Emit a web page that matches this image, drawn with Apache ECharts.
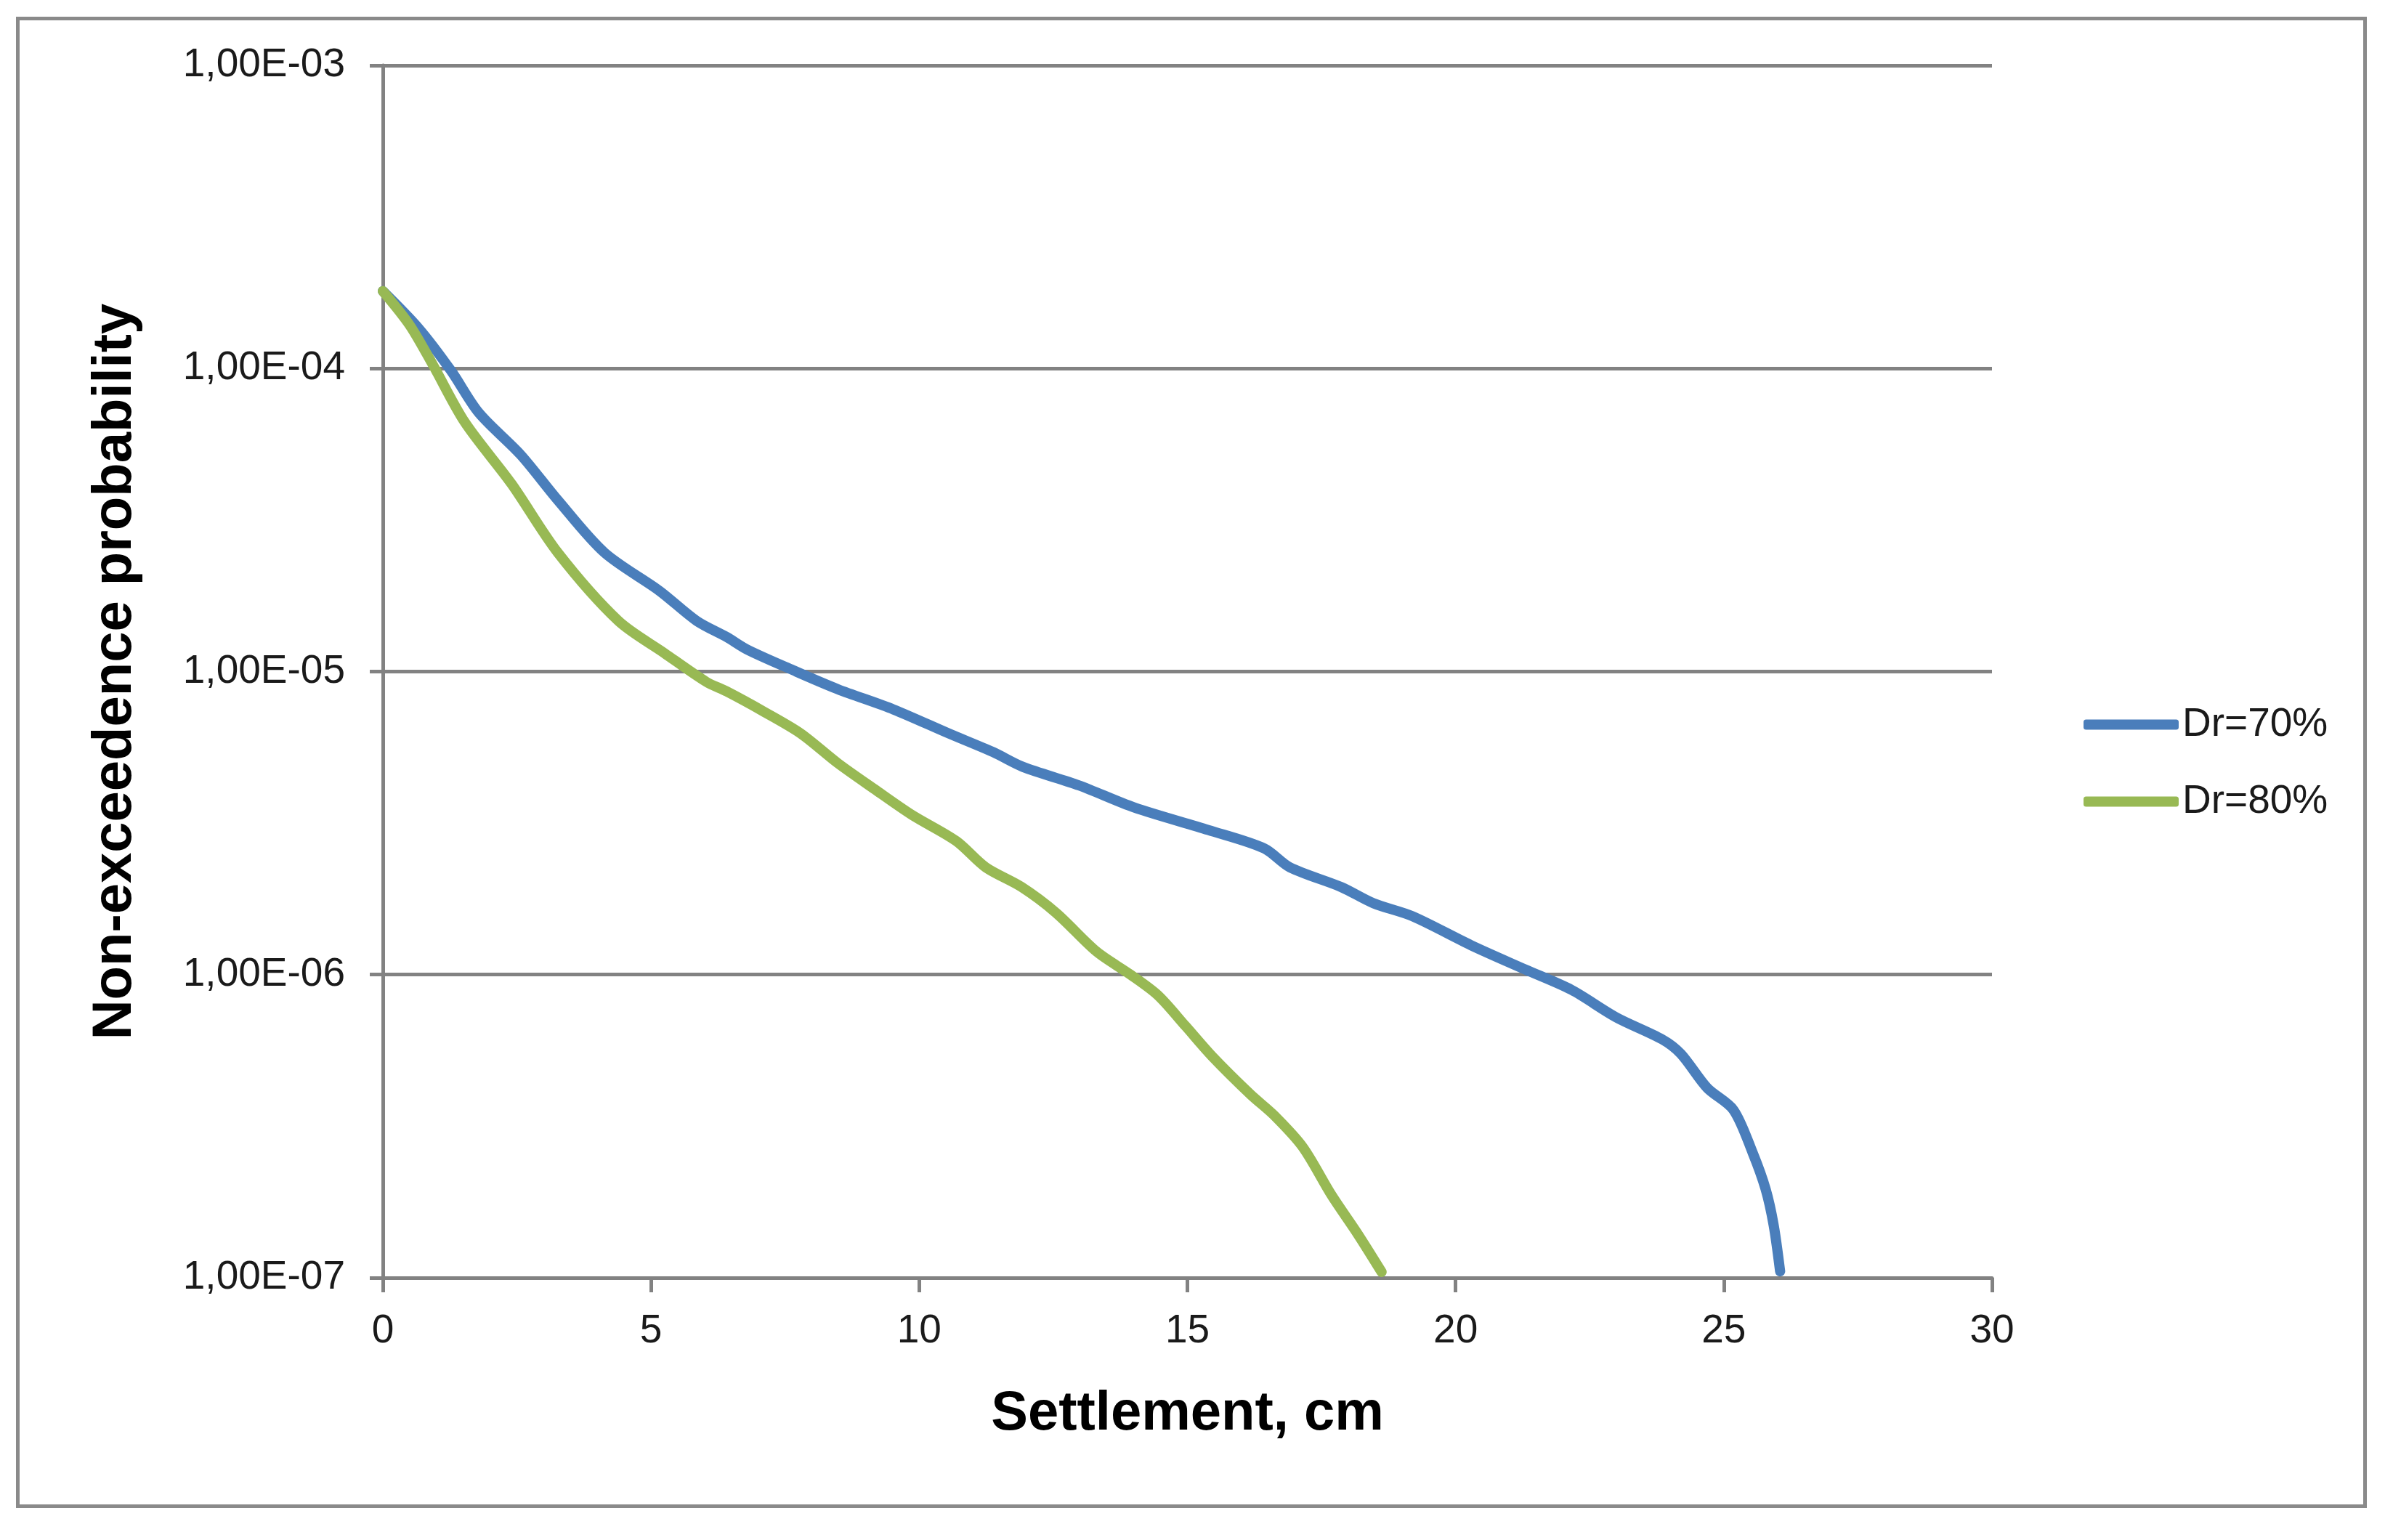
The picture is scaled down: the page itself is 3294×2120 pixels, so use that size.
<!DOCTYPE html>
<html>
<head>
<meta charset="utf-8">
<script src="https://cdn.jsdelivr.net/npm/echarts@6/dist/echarts.min.js"></script>
<style>
  * { margin: 0; padding: 0; }
  body { width: 3294px; height: 2120px; background: #fff; position: relative; overflow: hidden; }
  #frame { position: absolute; left: 22px; top: 23px; width: 3226px; height: 2043px; border: 5px solid #8a8a8a; }
  #main { position: absolute; left: 0; top: 0; width: 3294px; height: 2120px; }
</style>
</head>
<body>
<div id="frame"></div>
<div id="main"></div>
<script>
  // Settlement (cm) and non-exceedence probability
  var seriesNames = ['Dr=70%', 'Dr=80%'];

  var settlementDr70 = [0.00, 0.67, 1.27, 1.79, 2.57, 3.26, 4.13, 5.16, 5.85, 6.41, 6.80, 7.65, 8.48, 9.52,
    10.55, 11.38, 11.93, 12.98, 14.01, 15.39, 16.43, 16.91, 17.87, 18.47, 19.19, 20.29, 21.30, 22.16,
    22.99, 23.85, 24.20, 24.69, 25.18, 25.54, 25.78, 25.93, 26.05];
  var probDr70 = [1.80e-4, 1.355e-4, 9.84e-5, 7.14e-5, 5.19e-5, 3.68e-5, 2.47e-5, 1.845e-5, 1.47e-5, 1.30e-5,
    1.18e-5, 1.01e-5, 8.75e-6, 7.50e-6, 6.25e-6, 5.42e-6, 4.85e-6, 4.21e-6, 3.56e-6, 3.00e-6, 2.61e-6,
    2.26e-6, 1.945e-6, 1.72e-6, 1.56e-6, 1.25e-6, 1.04e-6, 8.91e-7, 7.24e-7, 6.12e-7, 5.48e-7, 4.23e-7,
    3.58e-7, 2.58e-7, 1.96e-7, 1.49e-7, 1.05e-7];

  var settlementDr80 = [0.00, 0.50, 0.93, 1.53, 2.40, 3.26, 4.39, 5.25, 6.03, 6.41, 7.10, 7.79, 8.48, 9.17,
    9.86, 10.69, 11.24, 11.90, 12.55, 13.31, 13.94, 14.45, 14.97, 15.46, 16.18, 16.62, 17.15, 17.69,
    18.18, 18.62];
  var probDr80 = [1.80e-4, 1.39e-4, 1.03e-4, 6.64e-5, 4.16e-5, 2.47e-5, 1.47e-5, 1.15e-5, 9.25e-6, 8.6e-6,
    7.38e-6, 6.25e-6, 4.99e-6, 4.09e-6, 3.37e-6, 2.76e-6, 2.26e-6, 1.95e-6, 1.60e-6, 1.19e-6, 1.00e-6,
    8.55e-7, 6.75e-7, 5.38e-7, 4.02e-7, 3.43e-7, 2.70e-7, 1.87e-7, 1.39e-7, 1.045e-7];

  var xTicks = [0, 5, 10, 15, 20, 25, 30];
  var yTickLabels = ['1,00E-07', '1,00E-06', '1,00E-05', '1,00E-04', '1,00E-03'];

  function pairs(xs, ys) {
    return xs.map(function (x, i) { return [x, ys[i]]; });
  }

  var gray = '#828282';
  var font = 'Liberation Sans';

  var chart = echarts.init(document.getElementById('main'));
  chart.setOption({
    animation: false,
    color: ['#4a7ebb', '#98b954'],
    grid: { left: 527, right: 552, top: 90, bottom: 361, containLabel: false },
    legend: {
      orient: 'vertical',
      left: 2863,
      top: 965,
      itemWidth: 131,
      itemHeight: 14,
      itemGap: 51,
      icon: 'roundRect',
      textStyle: { fontFamily: font, fontSize: 55, color: '#1a1a1a' },
      data: seriesNames
    },
    xAxis: {
      type: 'value',
      min: xTicks[0],
      max: xTicks[xTicks.length - 1],
      interval: 5,
      name: 'Settlement, cm',
      nameLocation: 'middle',
      nameGap: 150,
      nameTextStyle: { fontFamily: font, fontSize: 76, fontWeight: 'bold', color: '#000' },
      axisLine: { show: true, lineStyle: { color: gray, width: 5 } },
      axisTick: { show: true, inside: false, length: 20, lineStyle: { color: gray, width: 5 } },
      axisLabel: { margin: 46, fontFamily: font, fontSize: 55, color: '#1a1a1a' },
      splitLine: { show: false }
    },
    yAxis: {
      type: 'log',
      logBase: 10,
      min: 1e-7,
      max: 1e-3,
      name: 'Non-exceedence probability',
      nameLocation: 'middle',
      nameRotate: 90,
      nameGap: 330,
      nameTextStyle: { fontFamily: font, fontSize: 76, fontWeight: 'bold', color: '#000' },
      axisLine: { show: true, lineStyle: { color: gray, width: 5 } },
      axisTick: { show: true, inside: false, length: 18, lineStyle: { color: gray, width: 5 } },
      axisLabel: {
        margin: 52,
        fontFamily: font,
        fontSize: 55,
        color: '#1a1a1a',
        formatter: function (v) {
          var e = Math.round(Math.log10(v));
          return yTickLabels[e + 7];
        }
      },
      splitLine: { show: true, lineStyle: { color: gray, width: 5 } }
    },
    series: [
      {
        name: seriesNames[0],
        type: 'line',
        smooth: 0.3,
        showSymbol: false,
        lineStyle: { width: 14, cap: 'round' },
        data: pairs(settlementDr70, probDr70)
      },
      {
        name: seriesNames[1],
        type: 'line',
        smooth: 0.3,
        showSymbol: false,
        lineStyle: { width: 14, cap: 'round' },
        data: pairs(settlementDr80, probDr80)
      }
    ]
  });
</script>
</body>
</html>
